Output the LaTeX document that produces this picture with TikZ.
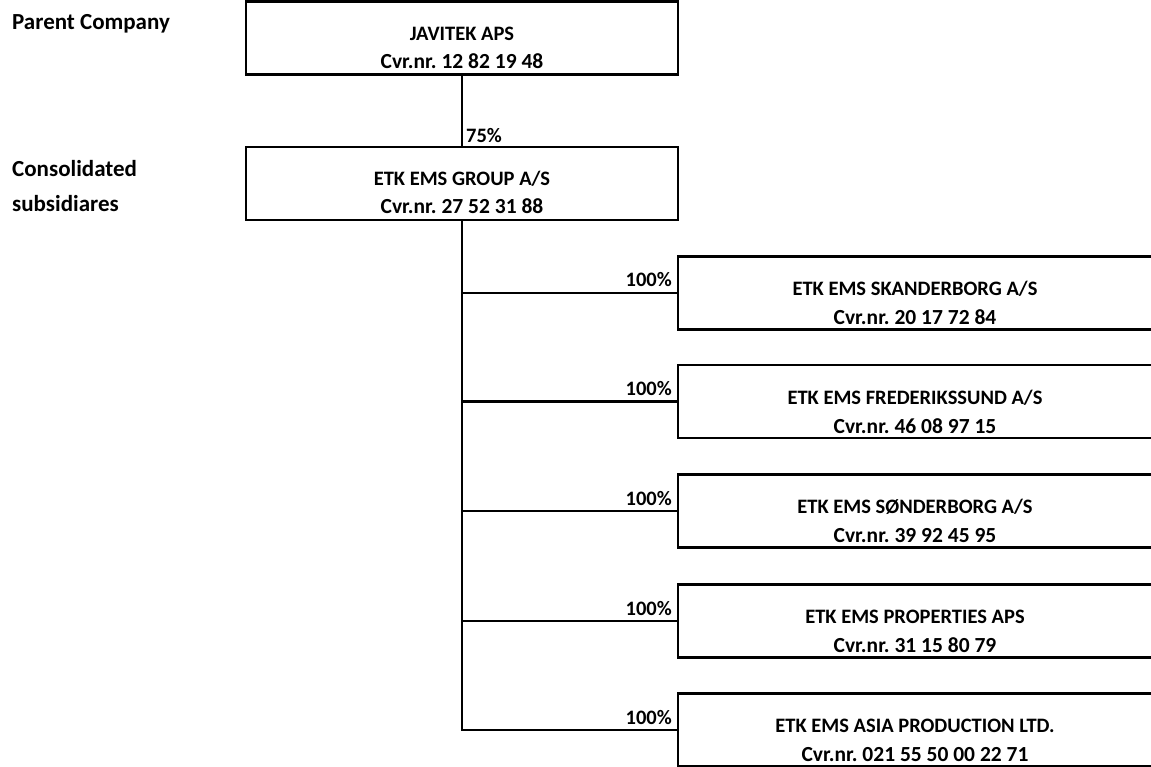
\documentclass[tikz,border=0pt]{standalone}
\usepackage{fontspec}
\setmainfont{Carlito}
\frenchspacing
\begin{document}
\begin{tikzpicture}[x=1pt,y=-1pt,
  orgbox/.style={draw=black,line width=2.4pt,minimum width=432pt,minimum height=73pt,inner sep=0pt,outer sep=0pt},
  subbox/.style={draw=black,line width=2.4pt,minimum width=474pt,minimum height=73pt,inner sep=0pt,outer sep=0pt},
  txt/.style={font=\fontsize{20.5}{22}\selectfont\bfseries,anchor=base,inner sep=0pt},
  num/.style={font=\fontsize{21.5}{23}\selectfont\bfseries,anchor=base,inner sep=0pt},
  lbl/.style={font=\fontsize{23}{25}\selectfont\bfseries,anchor=base west,inner sep=0pt},
  pct/.style={font=\fontsize{20.5}{22}\selectfont\bfseries,inner sep=0pt},
  conn/.style={line width=2.8pt}]
\useasboundingbox (0,0) rectangle (1151,767);
\fill[white] (0,0) rectangle (1151,767);

% left labels
\node[lbl] (lparent) at (12,30) {Parent Company};
\node[lbl] (lcons1) at (12,177) {Consolidated};
\node[lbl] (lcons2) at (12,212) {subsidiares};

% top boxes
\node[orgbox] (jav) at (462,38) {};
\node[txt] (javA) at ([yshift=-39pt]jav.north) {JAVITEK APS};
\node[num] (javB) at ([yshift=-67pt]jav.north) {Cvr.nr. 12 82 19 48};

\node[orgbox] (grp) at (462,183.5) {};
\node[txt] (grpA) at ([yshift=-39pt]grp.north) {ETK EMS GROUP A/S};
\node[num] (grpB) at ([yshift=-67pt]grp.north) {Cvr.nr. 27 52 31 88};

% subsidiaries
\node[subbox] (s1) at (915,293) {};
\node[subbox] (s2) at (915,401.5) {};
\node[subbox] (s3) at (915,511) {};
\node[subbox] (s4) at (915,621) {};
\node[subbox] (s5) at (915,730) {};

\node[txt] (s1A) at ([yshift=-39pt]s1.north) {ETK EMS SKANDERBORG A/S};
\node[num] (s1B) at ([yshift=-68pt]s1.north) {Cvr.nr. 20 17 72 84};
\node[txt] (s2A) at ([yshift=-39pt]s2.north) {ETK EMS FREDERIKSSUND A/S};
\node[num] (s2B) at ([yshift=-68pt]s2.north) {Cvr.nr. 46 08 97 15};
\node[txt] (s3A) at ([yshift=-39pt]s3.north) {ETK EMS SØNDERBORG A/S};
\node[num] (s3B) at ([yshift=-68pt]s3.north) {Cvr.nr. 39 92 45 95};
\node[txt] (s4A) at ([yshift=-39pt]s4.north) {ETK EMS PROPERTIES APS};
\node[num] (s4B) at ([yshift=-68pt]s4.north) {Cvr.nr. 31 15 80 79};
\node[txt] (s5A) at ([yshift=-39pt]s5.north) {ETK EMS ASIA PRODUCTION LTD.};
\node[num] (s5B) at ([yshift=-68pt]s5.north) {Cvr.nr. 021 55 50 00 22 71};

% connectors
\draw[conn] (jav.south) -- (grp.north);
\node[pct,anchor=base west] (p75) at ([xshift=4pt,yshift=4pt]grp.north) {75\%};
\draw[conn] (grp.south) |- (s5.west);
\foreach \s in {s1,s2,s3,s4}{
  \draw[conn] (grp.south |- \s.west) -- (\s.west);
}
\foreach \s in {s1,s2,s3,s4,s5}{
  \node[pct,anchor=base east] (p\s) at ([xshift=-6pt,yshift=6pt]\s.west) {100\%};
}
\end{tikzpicture}
\end{document}
